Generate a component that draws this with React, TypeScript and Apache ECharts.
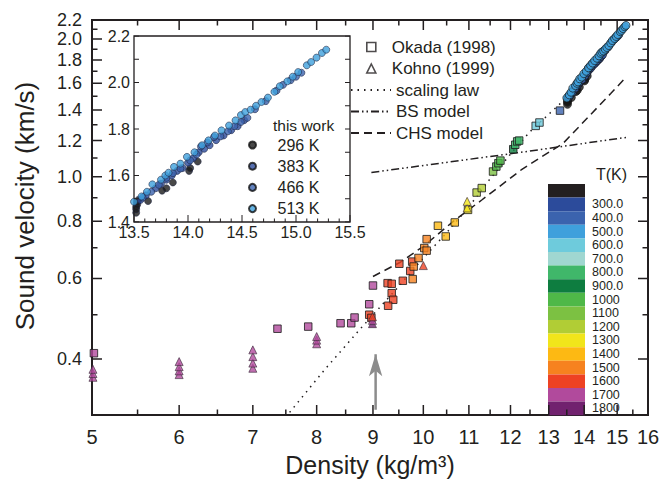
import { useEffect, useRef } from 'react';
import * as echarts from 'echarts';

// ---------------- data ----------------
const X_TICKS = [5, 6, 7, 8, 9, 10, 11, 12, 13, 14, 15, 16];
const X_MINOR_TICKS = [5.5, 6.5, 7.5, 8.5, 9.5, 10.5, 11.5, 12.5, 13.5, 14.5, 15.5];
const Y_TICKS = [0.4, 0.6, 0.8, 1.0, 1.2, 1.4, 1.6, 1.8, 2.0, 2.2];
const Y_MINOR_TICKS = [0.5, 0.7, 0.9, 1.1, 1.3, 1.5, 1.7, 1.9, 2.1];
const X_RANGE = [5, 16];
const Y_RANGE = [0.302, 2.2];
const INSET_X_RANGE = [13.5, 15.5];
const INSET_Y_RANGE = [1.4, 2.2];
const INSET_X_TICKS = [13.5, 14.0, 14.5, 15.0, 15.5];
const INSET_X_MINOR_TICKS = [13.6, 13.7, 13.8, 13.9, 14.1, 14.2, 14.3, 14.4, 14.6, 14.7, 14.8, 14.9, 15.1, 15.2, 15.3, 15.4];
const INSET_Y_TICKS = [1.4, 1.5, 1.6, 1.7, 1.8, 1.9, 2.0, 2.1, 2.2];

// Okada (1998): density, velocity, temperature (K)
const OKADA: number[][] = [
  [5.02, 0.412, 1750], [7.37, 0.466, 1750], [7.86, 0.471, 1750], [8.41, 0.479, 1750],
  [8.6, 0.479, 1750], [8.66, 0.493, 1750], [8.93, 0.527, 1750], [9.0, 0.579, 1750],
  [8.93, 0.5, 1650], [8.97, 0.492, 1650], [9.28, 0.586, 1650], [9.36, 0.584, 1650],
  [9.36, 0.557, 1650], [9.39, 0.539, 1650], [9.29, 0.523, 1650], [9.58, 0.593, 1650],
  [9.51, 0.646, 1650], [9.77, 0.653, 1650], [9.73, 0.623, 1650], [9.78, 0.598, 1550],
  [9.9, 0.665, 1550], [9.8, 0.637, 1550], [10.07, 0.731, 1550], [10.02, 0.699, 1550],
  [10.07, 0.69, 1550], [10.31, 0.782, 1450], [10.48, 0.741, 1450], [10.68, 0.795, 1450],
  [10.98, 0.847, 1350], [11.18, 0.924, 1250], [11.3, 0.945, 1250], [11.57, 1.027, 1150],
  [11.65, 1.053, 1050], [11.7, 1.071, 1050], [11.75, 1.085, 1050], [12.07, 1.149, 950],
  [12.12, 1.175, 850], [12.17, 1.195, 850], [12.22, 1.2, 850], [12.65, 1.292, 650],
  [12.75, 1.314, 650], [13.31, 1.395, 450],
];

// Kohno (1999): density, velocity, temperature (K)
const KOHNO: number[][] = [
  [5.01, 0.365, 1750], [5.01, 0.372, 1750], [5.01, 0.38, 1750],
  [6.0, 0.37, 1750], [6.0, 0.377, 1750], [6.0, 0.385, 1750], [6.0, 0.395, 1750],
  [7.0, 0.382, 1750], [7.0, 0.392, 1750], [7.0, 0.405, 1750], [7.0, 0.419, 1750],
  [8.0, 0.432, 1750], [8.0, 0.44, 1750], [8.0, 0.448, 1750],
  [8.99, 0.478, 1850], [8.99, 0.486, 1750], [8.99, 0.495, 1650],
  [10.0, 0.64, 1650], [10.96, 0.855, 1350], [10.96, 0.884, 1350],
];

// this work: density, velocity
const T296: number[][] = [
  [13.52, 1.44], [13.52, 1.455], [13.52, 1.465], [13.53, 1.475], [13.53, 1.485], [13.54, 1.495],
  [13.63, 1.49], [13.76, 1.535], [13.8, 1.545], [13.86, 1.57], [14.01, 1.62], [14.02, 1.632], [14.09, 1.66],
];
const T383: number[][] = [
  [13.56, 1.495], [13.61, 1.515], [13.7, 1.545], [13.75, 1.565], [13.8, 1.582], [13.85, 1.6],
  [13.9, 1.62], [13.95, 1.632], [14.0, 1.655], [14.05, 1.675], [14.1, 1.7], [14.15, 1.715],
  [14.2, 1.73], [14.26, 1.752], [14.33, 1.772], [14.4, 1.795], [14.46, 1.812], [14.52, 1.838],
];
const T466: number[][] = [
  [13.58, 1.505], [13.66, 1.53], [13.73, 1.56], [13.8, 1.59], [13.86, 1.61], [13.93, 1.63],
  [14.02, 1.665], [14.08, 1.69], [14.12, 1.725], [14.18, 1.742], [14.24, 1.765], [14.3, 1.768],
  [14.37, 1.79], [14.43, 1.812], [14.49, 1.83], [14.55, 1.848], [14.62, 1.885], [14.72, 1.92],
  [14.82, 1.965], [14.88, 1.99], [14.95, 2.01], [15.0, 2.025], [15.05, 2.042],
];
const T513: number[][] = [
  [13.5, 1.487], [13.57, 1.51], [13.62, 1.53], [13.67, 1.562], [13.75, 1.582], [13.79, 1.6],
  [13.82, 1.612], [13.87, 1.637], [13.93, 1.651], [13.99, 1.68], [14.06, 1.7], [14.13, 1.73],
  [14.19, 1.751], [14.25, 1.772], [14.31, 1.794], [14.38, 1.815], [14.44, 1.837], [14.49, 1.86],
  [14.53, 1.873], [14.58, 1.883], [14.63, 1.9], [14.68, 1.916], [14.74, 1.935], [14.8, 1.96],
  [14.85, 1.984], [14.92, 2.005], [14.97, 2.025], [15.02, 2.045], [15.1, 2.074], [15.14, 2.088],
  [15.19, 2.107], [15.24, 2.127], [15.28, 2.141],
];

// model curves: density, velocity
const SCALING_LAW: number[][] = [
  [7.56, 0.306], [8.14, 0.38], [8.5, 0.428], [8.76, 0.465], [9.17, 0.525], [9.44, 0.567],
  [10.0, 0.665], [10.5, 0.755], [11.0, 0.86], [11.48, 0.985], [12.07, 1.14], [12.5, 1.255],
  [12.98, 1.365], [13.5, 1.49], [14.0, 1.64], [14.5, 1.8], [15.0, 1.98], [15.5, 2.2],
];
const BS_MODEL: number[][] = [[8.97, 1.022], [12.16, 1.128], [15.35, 1.221]];
const CHS_MODEL: number[][] = [
  [9.0, 0.606], [9.52, 0.65], [10.0, 0.705], [10.69, 0.806], [11.3, 0.89], [12.3, 1.04],
  [13.4, 1.184], [14.2, 1.37], [14.8, 1.52], [15.3, 1.655],
];
const ARROW: number[][] = [[9.05, 0.31], [9.05, 0.41]];

// temperature colour scale
const T_EDGES = [300, 400, 500, 600, 700, 800, 900, 1000, 1100, 1200, 1300, 1400, 1500, 1600, 1700, 1800];
const T_LABELS = ['300.0', '400.0', '500.0', '600.0', '700.0', '800.0', '900.0', '1000', '1100', '1200', '1300', '1400', '1500', '1600', '1700', '1800'];

// ---------------- styles / layout ----------------
const BAND_COLORS = [
  '#231f20', '#2c4b9b', '#3b63ae', '#3fa0dc', '#6ecbdc', '#a0d7d1', '#40b76a', '#0e7d40', '#4fb848',
  '#7cc142', '#b1cd35', '#f1e51b', '#fdb913', '#f6821f', '#ee4223', '#b14a9c', '#71226f',
];
const WORK_COLORS = ['#1a1a1a', '#2c4b9b', '#3b63ae', '#3fa0dc'];
const INK = '#231f20';
const FONT = '"Liberation Sans", Arial, Helvetica, sans-serif';
const W = 670;
const H = 483;
const MAIN_GRID = { left: 92, right: 22, top: 20, bottom: 68 };
const INSET_GRID = { left: 134, top: 36, width: 216, height: 186 };

const lg = (v: number) => Math.log10(v);
const toLog = (arr: number[][]) => arr.map((p) => [lg(p[0]), lg(p[1]), ...p.slice(2)]);
const findTick = (ticks: number[], val: number) => ticks.find((t) => Math.abs(lg(t) - val) < 1e-9);

// tick marks as short line segments through the axes' scales
function tickLines(xi: number, yi: number, segs: (number[] | null)[], width: number): any {
  return {
    type: 'line',
    xAxisIndex: xi,
    yAxisIndex: yi,
    silent: true,
    symbol: 'none',
    connectNulls: false,
    z: 6,
    lineStyle: { color: INK, width },
    itemStyle: { color: INK },
    data: segs,
  };
}

function buildOption(): any {
  const xMinL = lg(X_RANGE[0]);
  const xMaxL = lg(X_RANGE[1]);
  const yMinL = lg(Y_RANGE[0]);
  const yMaxL = lg(Y_RANGE[1]);
  const mainW = W - MAIN_GRID.left - MAIN_GRID.right;
  const mainH = H - MAIN_GRID.top - MAIN_GRID.bottom;
  const pxX = (xMaxL - xMinL) / mainW; // data units per pixel
  const pxY = (yMaxL - yMinL) / mainH;
  const ipxX = (INSET_X_RANGE[1] - INSET_X_RANGE[0]) / INSET_GRID.width;
  const ipxY = (INSET_Y_RANGE[1] - INSET_Y_RANGE[0]) / INSET_GRID.height;

  const vTicks = (xs: number[], y0: number, dy: number) =>
    xs.flatMap((x) => [[x, y0], [x, y0 + dy], null]);
  const hTicks = (ys: number[], x0: number, dx: number) =>
    ys.flatMap((y) => [[x0, y], [x0 + dx, y], null]);

  const workNames = ['296 K', '383 K', '466 K', '513 K'];
  const workData = [T296, T383, T466, T513];

  const pieces = BAND_COLORS.map((color, i) => {
    if (i === 0) return { lt: T_EDGES[0], label: ' ', color };
    if (i === BAND_COLORS.length - 1) return { gte: T_EDGES[i - 1], label: T_LABELS[i - 1], color };
    return { gte: T_EDGES[i - 1], lt: T_EDGES[i], label: T_LABELS[i - 1], color };
  });

  const lineSeries = (name: string, data: number[][], type: any) => ({
    name,
    type: 'line',
    xAxisIndex: 0,
    yAxisIndex: 0,
    data: toLog(data),
    symbol: 'none',
    silent: true,
    z: 1,
    lineStyle: { color: INK, width: 1.5, type },
    itemStyle: { color: INK },
  });

  const curves: any[] = [
    lineSeries('scaling law', SCALING_LAW, [1.5, 5]),
    lineSeries('BS model', BS_MODEL, [8, 3, 1.5, 3, 1.5, 3]),
    lineSeries('CHS model', CHS_MODEL, [8, 5]),
    {
      name: 'arrow',
      type: 'line',
      xAxisIndex: 0,
      yAxisIndex: 0,
      silent: true,
      z: 1,
      data: toLog(ARROW).map((p, i) => ({
        value: p,
        symbol: i === ARROW.length - 1 ? 'arrow' : 'none',
        symbolSize: [10, 22],
      })),
      lineStyle: { color: '#8c8c8c', width: 2.5 },
      itemStyle: { color: '#8c8c8c' },
    },
  ];

  const measured: any[] = [
    {
      name: 'Okada (1998)',
      type: 'scatter',
      xAxisIndex: 0,
      yAxisIndex: 0,
      symbol: 'rect',
      symbolSize: 7.5,
      data: toLog(OKADA),
      itemStyle: { borderColor: '#1a1a1a', borderWidth: 1 },
      z: 3,
    },
    {
      name: 'Kohno (1999)',
      type: 'scatter',
      xAxisIndex: 0,
      yAxisIndex: 0,
      symbol: 'triangle',
      symbolSize: 8,
      data: toLog(KOHNO),
      itemStyle: { borderColor: '#3a2a3a', borderWidth: 0.8 },
      z: 3,
    },
  ];

  const work: any[] = [
    ...workData.map((d, i) => ({
      name: workNames[i],
      type: 'scatter',
      xAxisIndex: 0,
      yAxisIndex: 0,
      symbol: 'circle',
      symbolSize: 8,
      data: toLog(d),
      itemStyle: { color: WORK_COLORS[i], borderColor: '#111', borderWidth: 0.8 },
      z: 4,
    })),
    ...workData.map((d, i) => ({
      name: workNames[i],
      type: 'scatter',
      xAxisIndex: 1,
      yAxisIndex: 1,
      symbol: 'circle',
      symbolSize: 7,
      data: d,
      itemStyle: { color: WORK_COLORS[i], borderColor: '#1c2440', borderWidth: 0.7 },
      z: 5,
    })),
  ];

  const xt = X_TICKS.map(lg);
  const xm = X_MINOR_TICKS.map(lg);
  const yt = Y_TICKS.map(lg);
  const ym = Y_MINOR_TICKS.map(lg);
  const ticks: any[] = [
    tickLines(0, 0, [
      ...vTicks(xt, yMinL, 10 * pxY),
      ...vTicks(xm, yMinL, 5.5 * pxY),
      ...vTicks(xt, yMaxL, -10 * pxY),
      ...vTicks(xm, yMaxL, -5.5 * pxY),
      ...hTicks(yt, xMinL, 10 * pxX),
      ...hTicks(ym, xMinL, 5.5 * pxX),
      ...hTicks(yt, xMaxL, -10 * pxX),
      ...hTicks(ym, xMaxL, -5.5 * pxX),
    ], 1.5),
    tickLines(1, 1, [
      ...vTicks(INSET_X_TICKS, INSET_Y_RANGE[0], 7 * ipxY),
      ...vTicks(INSET_X_MINOR_TICKS, INSET_Y_RANGE[0], 3.5 * ipxY),
      ...hTicks(INSET_Y_TICKS, INSET_X_RANGE[0], 5 * ipxX),
      ...hTicks(INSET_Y_TICKS, INSET_X_RANGE[1], -5 * ipxX),
    ], 1),
  ];

  const series = [...curves, ...measured, ...work, ...ticks];
  const okadaIndex = curves.length;

  const hollow = { color: 'rgba(0,0,0,0)', borderColor: INK, borderWidth: 1.6 };
  const noLine = { show: false, onZero: false };

  return {
    animation: false,
    backgroundColor: '#ffffff',
    textStyle: { fontFamily: FONT },
    grid: [
      { ...MAIN_GRID, show: true, borderColor: INK, borderWidth: 2, backgroundColor: 'rgba(0,0,0,0)' },
      { ...INSET_GRID, show: true, borderColor: INK, borderWidth: 1.3, backgroundColor: '#ffffff' },
    ],
    xAxis: [
      {
        type: 'value',
        gridIndex: 0,
        min: xMinL,
        max: xMaxL,
        axisLine: noLine,
        splitLine: { show: false },
        axisTick: { show: false },
        axisLabel: {
          show: true,
          customValues: xt,
          formatter: (v: number) => {
            const t = findTick(X_TICKS, v);
            return t == null ? '' : String(t);
          },
          fontSize: 20,
          margin: 12,
          color: INK,
          fontFamily: FONT,
        },
        name: 'Density (kg/m³)',
        nameLocation: 'middle',
        nameGap: 37,
        nameTextStyle: { fontSize: 25, color: INK, fontFamily: FONT },
      },
      {
        type: 'value',
        gridIndex: 1,
        min: INSET_X_RANGE[0],
        max: INSET_X_RANGE[1],
        interval: 0.5,
        axisLine: noLine,
        splitLine: { show: false },
        axisTick: { show: false },
        axisLabel: { show: true, fontSize: 16, margin: 2, color: INK, fontFamily: FONT, formatter: (v: number) => v.toFixed(1), showMinLabel: true, showMaxLabel: true },
      },
    ],
    yAxis: [
      {
        type: 'value',
        gridIndex: 0,
        min: yMinL,
        max: yMaxL,
        axisLine: noLine,
        splitLine: { show: false },
        axisTick: { show: false },
        axisLabel: {
          show: true,
          customValues: yt,
          formatter: (v: number) => {
            const t = findTick(Y_TICKS, v);
            return t == null ? '' : t.toFixed(1);
          },
          showMinLabel: true,
          showMaxLabel: true,
          fontSize: 18,
          lineHeight: 14,
          margin: 10,
          color: INK,
          fontFamily: FONT,
        },
        name: 'Sound velocity (km/s)',
        nameLocation: 'middle',
        nameGap: 54,
        nameTextStyle: { fontSize: 26, color: INK, fontFamily: FONT, padding: [0, 0, 0, 23] },
      },
      {
        type: 'value',
        gridIndex: 1,
        min: INSET_Y_RANGE[0],
        max: INSET_Y_RANGE[1],
        interval: 0.2,
        axisLine: noLine,
        splitLine: { show: false },
        axisTick: { show: false },
        axisLabel: { show: true, fontSize: 16, margin: 4, color: INK, fontFamily: FONT, formatter: (v: number) => v.toFixed(1), showMinLabel: true, showMaxLabel: true },
      },
    ],
    legend: [
      {
        orient: 'vertical',
        left: 366,
        top: 38.5,
        padding: 0,
        itemWidth: 9,
        itemHeight: 9,
        itemGap: 4.5,
        selectedMode: false,
        textStyle: { fontSize: 17, lineHeight: 17, color: INK, fontFamily: FONT, padding: [0, 0, 0, 11] },
        data: [
          { name: 'Okada (1998)', icon: 'rect', itemStyle: hollow },
          { name: 'Kohno (1999)', icon: 'triangle', itemStyle: hollow },
        ],
      },
      {
        orient: 'vertical',
        left: 350,
        top: 81.5,
        padding: 0,
        itemWidth: 40,
        itemHeight: 8,
        itemGap: 4.5,
        selectedMode: false,
        textStyle: { fontSize: 17, lineHeight: 17, color: INK, fontFamily: FONT },
        data: [
          { name: 'scaling law', itemStyle: { opacity: 0 } },
          { name: 'BS model', itemStyle: { opacity: 0 } },
          { name: 'CHS model', itemStyle: { opacity: 0 } },
        ],
      },
      {
        orient: 'vertical',
        left: 248,
        top: 137,
        padding: 0,
        itemWidth: 40,
        itemHeight: 7,
        itemGap: 5.2,
        selectedMode: false,
        icon: 'circle',
        textStyle: { fontSize: 16, lineHeight: 16, color: INK, fontFamily: FONT },
        data: workNames,
      },
    ],
    visualMap: {
      type: 'piecewise',
      dimension: 2,
      seriesIndex: [okadaIndex, okadaIndex + 1],
      orient: 'vertical',
      inverse: true,
      left: 548,
      top: 184,
      padding: 0,
      itemWidth: 37,
      itemHeight: 13.6,
      itemGap: 0,
      itemSymbol: 'rect',
      align: 'left',
      textGap: 7,
      showLabel: true,
      hoverLink: false,
      selectedMode: false,
      textStyle: { fontSize: 12.5, color: INK, fontFamily: FONT },
      pieces,
    },
    graphic: [
      { type: 'text', left: 273, top: 117, silent: true, style: { text: 'this work', fontSize: 15.5, fill: INK, fontFamily: FONT } },
      { type: 'text', left: 596, top: 166, silent: true, style: { text: 'T(K)', fontSize: 16, fill: INK, fontFamily: FONT } },
    ],
    series,
  };
}

export default function App() {
  const ref = useRef<HTMLDivElement | null>(null);
  useEffect(() => {
    document.body.style.margin = '0';
    if (!ref.current) return;
    const chart = echarts.init(ref.current, undefined, { renderer: 'svg' });
    chart.setOption(buildOption());
    return () => chart.dispose();
  }, []);
  return <div ref={ref} style={{ position: 'absolute', left: 0, top: 0, width: 670, height: 483 }} />;
}
